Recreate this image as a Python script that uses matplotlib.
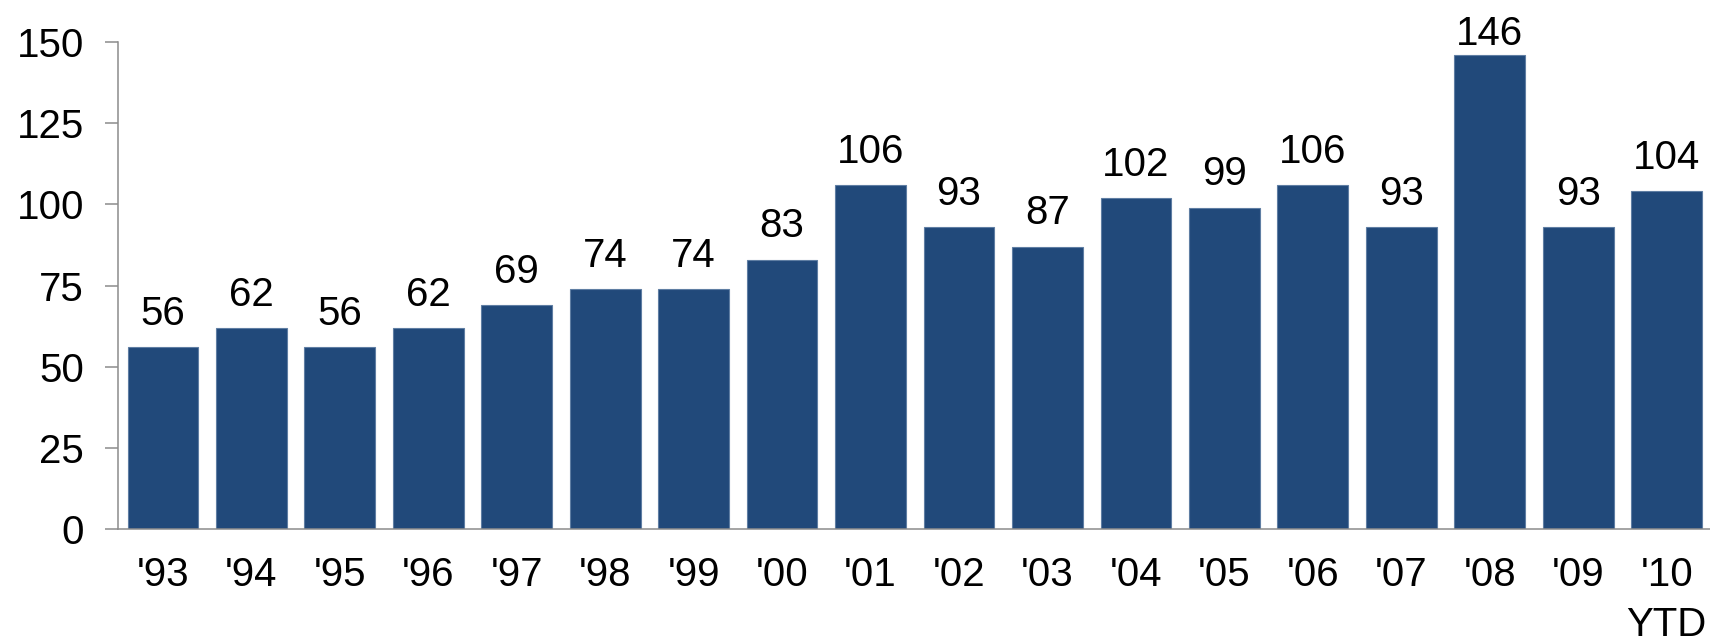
import matplotlib.pyplot as plt

plt.rcParams['font.family'] = ['Liberation Sans', 'DejaVu Sans']

# Annual counts
years = ["'93", "'94", "'95", "'96", "'97", "'98", "'99", "'00", "'01",
         "'02", "'03", "'04", "'05", "'06", "'07", "'08", "'09", "'10\nYTD"]
counts = [56, 62, 56, 62, 69, 74, 74, 83, 106,
          93, 87, 102, 99, 106, 93, 146, 93, 104]
y_ticks = [0, 25, 50, 75, 100, 125, 150]

bar_color = '#21497A'
axis_color = '#8C8C8C'
fsize = 29

fig = plt.figure(figsize=(17.1, 6.37), dpi=100)
ax = fig.add_axes([0.0689, 0.169, 0.9311, 0.765])

x = list(range(len(counts)))
ax.bar(x, counts, width=0.8, color=bar_color, edgecolor='#5F7EA3', linewidth=0.8)

# value labels above bars, kept inside the plot area
for i, v in zip(x, counts):
    ax.text(i, min(v + 6.9, 149.2), str(v), ha='center', va='baseline',
            fontsize=fsize, color='black', clip_on=False)

ax.set_xlim(-0.51, 17.49)
ax.set_ylim(0, 150)
ax.set_yticks(y_ticks)
ax.set_xticks(x)
ax.set_xticklabels(years, fontsize=fsize, linespacing=1.37)
ax.tick_params(axis='y', labelsize=fsize, length=9.4, width=1.1,
               color=axis_color, pad=15, direction='out')
ax.tick_params(axis='x', length=0, pad=19.5)

for side in ['top', 'right']:
    ax.spines[side].set_visible(False)
for side in ['left', 'bottom']:
    ax.spines[side].set_color(axis_color)
    ax.spines[side].set_linewidth(1.1)

fig.savefig('out.png', dpi=100)
